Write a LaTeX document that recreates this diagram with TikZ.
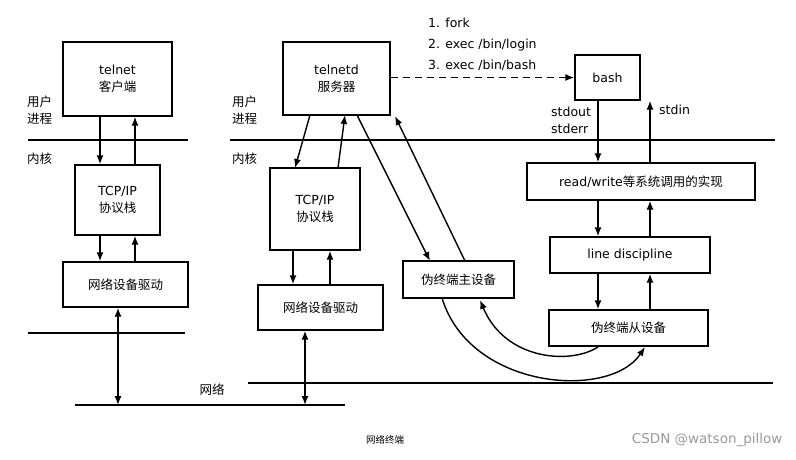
\documentclass[tikz,border=0pt]{standalone}
\usepackage{fontspec}
\usetikzlibrary{arrows.meta}
\setmainfont{DejaVu Sans}
\newfontfamily\cjk{Noto Sans CJK SC}
\begin{document}
\begin{tikzpicture}[x=1pt,y=-1pt,font=\fontsize{12.5}{17}\selectfont,
  box/.style={draw,line width=1.4pt,inner sep=0pt,align=center},
  ln/.style={line width=1.4pt},
  ar/.style={line width=1.4pt,-{Latex[length=9pt,width=7pt]}},
  dar/.style={line width=1.4pt,{Latex[length=9pt,width=7pt]}-{Latex[length=9pt,width=7pt]}},
  lbl/.style={inner sep=0pt,align=left,anchor=west}]
\useasboundingbox (0,0) rectangle (796,459);
% left
\node[box,minimum width=109pt,minimum height=74pt] (tc) at (117.5,79) {telnet\\{\cjk 客户端}};
\node[box,minimum width=85pt,minimum height=70pt] (tcp1) at (117.5,200) {TCP/IP\\{\cjk 协议栈}};
\node[box,minimum width=125pt,minimum height=45pt] (nd1) at (125.5,284.5) {\cjk 网络设备驱动};
\coordinate (l1a) at (28,140); \coordinate (l1b) at (188,140);
\draw[ln] (l1a) -- (l1b);
\coordinate (l2a) at (28,333); \coordinate (l2b) at (185,333);
\draw[ln] (l2a) -- (l2b);
\node[lbl] (u1) at (27,110) {\cjk 用户\\\cjk 进程};
\node[lbl] (k1) at (27,159) {\cjk 内核};
\draw[ar] (tc.south -| 100,0) -- (tcp1.north -| 100,0);
\draw[ar] (tcp1.north -| 135,0) -- (tc.south -| 135,0);
\draw[ar] (tcp1.south -| 100,0) -- (nd1.north -| 100,0);
\draw[ar] (nd1.north -| 135,0) -- (tcp1.south -| 135,0);
\coordinate (b1) at (118,405);
\draw[dar] (nd1.south -| b1) -- (b1);
% bottom network line
\coordinate (n1) at (75,405); \coordinate (n2) at (345,405);
\draw[ln] (n1) -- (n2);
\node (net) at (212,390) {\cjk 网络};
% middle
\node[box,minimum width=107pt,minimum height=73pt] (td) at (336.5,78.5) {telnetd\\{\cjk 服务器}};
\node[box,minimum width=90pt,minimum height=82pt] (tcp2) at (315,209) {TCP/IP\\{\cjk 协议栈}};
\node[box,minimum width=125pt,minimum height=45pt] (nd2) at (320.5,307.5) {\cjk 网络设备驱动};
\coordinate (l3a) at (230,140); \coordinate (l3b) at (775,140);
\draw[ln] (l3a) -- (l3b);
\coordinate (l4a) at (248,383); \coordinate (l4b) at (773,383);
\draw[ln] (l4a) -- (l4b);
\node[lbl] (u2) at (232,110) {\cjk 用户\\\cjk 进程};
\node[lbl] (k2) at (232,159) {\cjk 内核};
\draw[ar] (310,115) -- (295,168);
\draw[ar] (338,168) -- (345,115);
\draw[ar] (tcp2.south -| 293,0) -- (nd2.north -| 293,0);
\draw[ar] (nd2.north -| 330,0) -- (tcp2.south -| 330,0);
\coordinate (b2) at (305,405);
\draw[dar] (nd2.south -| b2) -- (b2);
% right
\node[box,minimum width=65pt,minimum height=45pt] (bash) at (607.5,77.5) {bash};
\draw[ln,dash pattern=on 7pt off 5pt,-{Latex[length=9pt,width=7pt]}] (td.east |- bash) -- (bash.west);
\node[lbl] (steps) at (428,44) {1. fork\\[4pt]2. exec /bin/login\\[4pt]3. exec /bin/bash};
\node[lbl] (so) at (551,120) {stdout\\stderr};
\node[lbl] (si) at (659,110) {stdin};
\node[box,minimum width=228pt,minimum height=37pt] (rw) at (641,181.5) {read/write{\cjk 等系统调用的实现}};
\node[box,minimum width=160pt,minimum height=36pt] (ld) at (630,255) {line discipline};
\node[box,minimum width=159pt,minimum height=36pt] (sl) at (628.5,328) {\cjk 伪终端从设备};
\node[box,minimum width=111pt,minimum height=37pt] (ms) at (458.5,279.5) {\cjk 伪终端主设备};
\draw[ar] (bash.south -| 598,0) -- (rw.north -| 598,0);
\draw[ar] (rw.north -| 650,0) -- (bash.south -| 650,0);
\draw[ar] (rw.south -| 598,0) -- (ld.north -| 598,0);
\draw[ar] (ld.north -| 650,0) -- (rw.south -| 650,0);
\draw[ar] (ld.south -| 598,0) -- (sl.north -| 598,0);
\draw[ar] (sl.north -| 650,0) -- (ld.south -| 650,0);
\draw[ar] (357,115) -- (430,261);
\draw[ar] (465,261) -- (395,116);
\draw[ar] (442,298) .. controls (470,390) and (610,400) .. (645,347);
\draw[ar] (598,347) .. controls (570,365) and (505,360) .. (480,300);
% captions
\node (cap) at (385,440) {\fontsize{9.5}{11}\selectfont\cjk 网络终端};
\node[text=gray!80,anchor=east] (wm) at (786,440) {\fontsize{13.5}{15}\selectfont CSDN @watson\_pillow};
\end{tikzpicture}
\end{document}
